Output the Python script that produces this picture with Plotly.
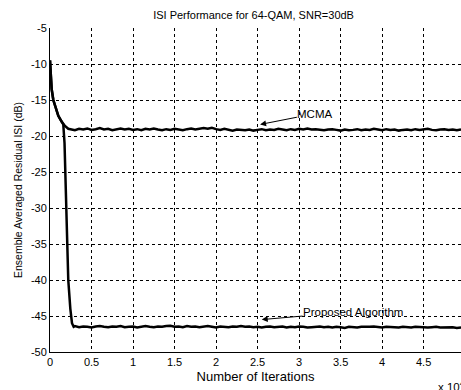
import plotly.graph_objects as go

# Iterations in units of 10^4
mcma_head_x = [0.0, 0.005, 0.01, 0.02, 0.04, 0.07, 0.10, 0.14, 0.18, 0.22, 0.26]
mcma_head_y = [-9.5, -11.0, -12.5, -13.5, -15.0, -16.3, -17.2, -18.0, -18.6, -19.0, -19.1]

prop_head_x = [0.0, 0.005, 0.01, 0.02, 0.04, 0.07, 0.10, 0.14, 0.16, 0.175, 0.19, 0.205, 0.22, 0.245, 0.265, 0.285]
prop_head_y = [-9.5, -11.0, -12.5, -13.5, -15.0, -16.3, -17.2, -18.0, -18.4, -21.0, -27.0, -34.0, -40.0, -44.0, -46.0, -46.5]

tail_x = [round(0.30 + 0.05 * i, 2) for i in range(94)]

mcma_tail = [-19.2, -19.0, -19.1, -18.95, -19.15, -19.05, -18.9, -19.1, -19.0, -19.2,
             -19.05, -18.95, -19.1, -19.0, -19.15, -19.05, -19.2, -19.0, -19.1, -18.95,
             -19.1, -19.2, -19.05, -19.15, -19.0, -19.1, -19.2, -19.05, -18.95, -19.1,
             -19.0, -18.9, -19.0, -18.85, -19.05, -19.15, -19.0, -19.1, -19.25, -19.1,
             -19.15, -19.2, -19.1, -19.25, -19.15, -19.05, -19.2, -19.1, -19.15, -19.0,
             -19.1, -19.2, -19.05, -19.15, -19.0, -19.1, -18.95, -19.1, -19.05, -19.15,
             -19.2, -19.1, -19.05, -19.15, -19.25, -19.1, -19.2, -19.15, -19.05, -19.2,
             -19.1, -19.15, -19.0, -19.1, -19.2, -19.05, -19.15, -19.1, -19.25, -19.15,
             -19.1, -19.2, -19.05, -19.15, -19.1, -19.0, -19.15, -19.2, -19.1, -19.05,
             -19.15, -19.1, -19.2, -19.1]

prop_tail = [-46.4, -46.55, -46.45, -46.5, -46.6, -46.45, -46.4, -46.5, -46.55, -46.45,
             -46.5, -46.4, -46.55, -46.5, -46.45, -46.6, -46.5, -46.4, -46.5, -46.55,
             -46.45, -46.5, -46.4, -46.35, -46.5, -46.45, -46.55, -46.4, -46.5, -46.45,
             -46.55, -46.5, -46.4, -46.5, -46.6, -46.45, -46.5, -46.55, -46.45, -46.5,
             -46.4, -46.5, -46.45, -46.55, -46.5, -46.6, -46.5, -46.45, -46.55, -46.5,
             -46.45, -46.6, -46.5, -46.55, -46.45, -46.5, -46.6, -46.55, -46.5, -46.45,
             -46.55, -46.5, -46.6, -46.5, -46.55, -46.65, -46.5, -46.55, -46.6, -46.5,
             -46.55, -46.5, -46.45, -46.55, -46.6, -46.5, -46.55, -46.65, -46.6, -46.5,
             -46.55, -46.6, -46.5, -46.55, -46.65, -46.6, -46.55, -46.5, -46.6, -46.55,
             -46.6, -46.55, -46.65, -46.6]

x_ticks = [0, 0.5, 1, 1.5, 2, 2.5, 3, 3.5, 4, 4.5]
x_tick_labels = ["0", "0.5", "1", "1.5", "2", "2.5", "3", "3.5", "4", "4.5"]
y_ticks = [-5, -10, -15, -20, -25, -30, -35, -40, -45, -50]
y_tick_labels = ["-5", "-10", "-15", "-20", "-25", "-30", "-35", "-40", "-45", "-50"]

FONT = "Liberation Sans, Arial, sans-serif"

fig = go.Figure()
fig.add_trace(go.Scatter(x=mcma_head_x + tail_x, y=mcma_head_y + mcma_tail,
                         mode="lines", line=dict(color="black", width=2.5),
                         name="MCMA", showlegend=False))
fig.add_trace(go.Scatter(x=prop_head_x + tail_x, y=prop_head_y + prop_tail,
                         mode="lines", line=dict(color="black", width=2.5),
                         name="Proposed Algorithm", showlegend=False))

fig.add_annotation(x=2.53, y=-18.4, ax=3.19, ay=-16.9, axref="x", ayref="y",
                   xref="x", yref="y", text="MCMA", showarrow=True,
                   arrowhead=2, arrowsize=1.2, arrowwidth=1, arrowcolor="black",
                   borderpad=0, font=dict(family=FONT, size=11.5, color="black"))
fig.add_annotation(x=2.55, y=-45.5, ax=3.65, ay=-44.4, axref="x", ayref="y",
                   xref="x", yref="y", text="Proposed Algorithm", showarrow=True,
                   arrowhead=2, arrowsize=1.2, arrowwidth=1, arrowcolor="black",
                   borderpad=0, font=dict(family=FONT, size=11.5, color="black"))
fig.add_annotation(x=0.94, y=-0.104, xref="paper", yref="paper",
                   text="x 10<sup>4</sup>", showarrow=False,
                   xanchor="left", yanchor="middle",
                   font=dict(family=FONT, size=11.5, color="black"))

fig.update_layout(
    width=461, height=390,
    margin=dict(l=50, r=0, t=28, b=38),
    paper_bgcolor="white", plot_bgcolor="white",
    font=dict(family=FONT, size=11, color="black"),
    title=dict(text="ISI Performance for 64-QAM, SNR=30dB", x=0.55, xanchor="center",
               y=1 - 15 / 390, yanchor="middle", font=dict(size=11)),
    xaxis=dict(range=[0, 4.95], tickvals=x_ticks, ticktext=x_tick_labels,
               showgrid=True, gridcolor="black", griddash="3px,3px", gridwidth=1,
               showline=True, linecolor="black", linewidth=1, mirror=False,
               ticks="", zeroline=False,
               title=dict(text="Number of Iterations", standoff=4)),
    yaxis=dict(range=[-50, -5], tickvals=y_ticks, ticktext=y_tick_labels,
               showgrid=True, gridcolor="black", griddash="3px,3px", gridwidth=1,
               showline=True, linecolor="black", linewidth=1, mirror=True,
               ticks="", zeroline=False,
               title=dict(text="Ensemble Averaged Residual ISI (dB)", standoff=6,
                          font=dict(size=10.5))),
)

fig.write_html("out.html")
